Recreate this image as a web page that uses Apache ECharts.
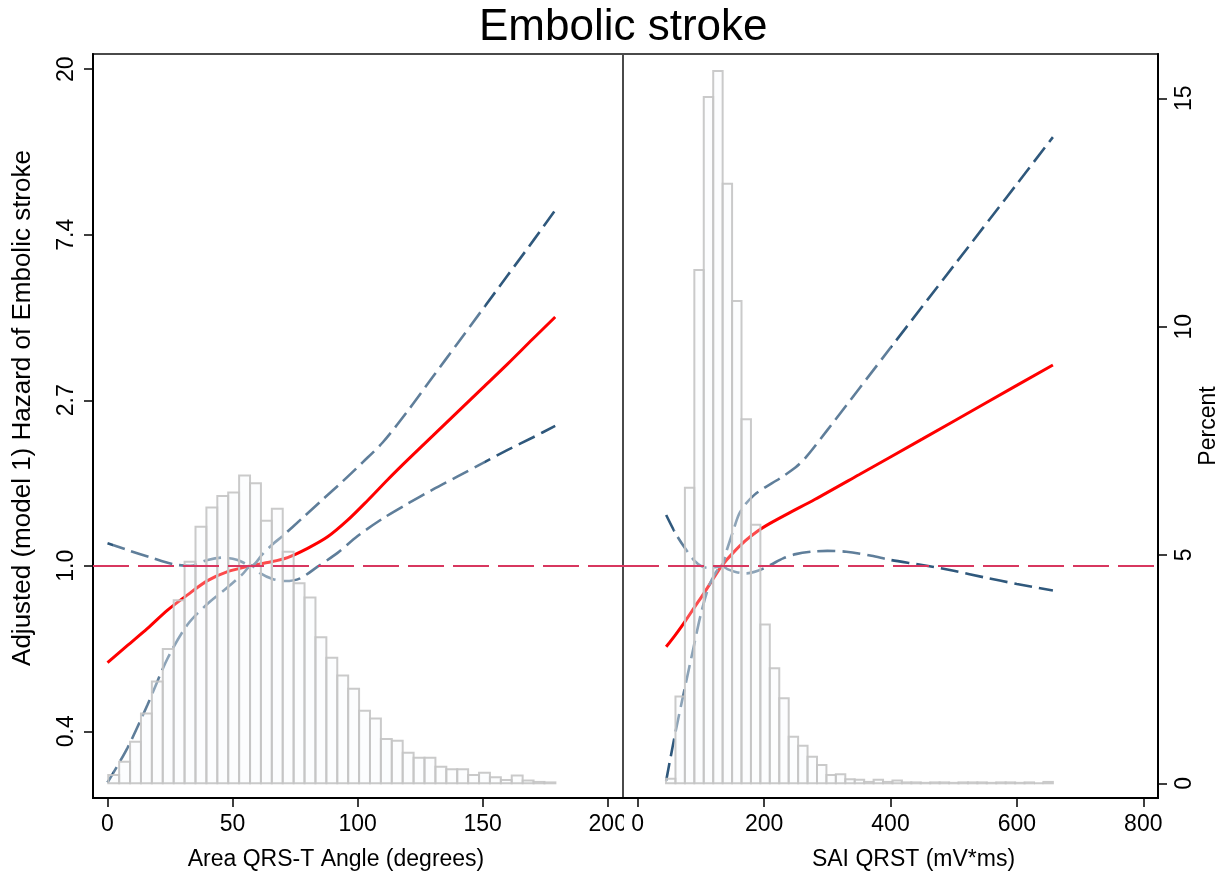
<!DOCTYPE html>
<html>
<head>
<meta charset="utf-8">
<script src="https://cdn.jsdelivr.net/npm/echarts@6/dist/echarts.min.js"></script>
<style>
html,body{margin:0;padding:0;background:#fff;}
#chart{width:1230px;height:880px;}
</style>
</head>
<body>
<div id="chart"></div>
<script>
// ---------------- DATA ----------------
const titleText = 'Embolic stroke';
const leftXTitle = 'Area QRS-T Angle (degrees)';
const rightXTitle = 'SAI QRST (mV*ms)';
const yTitle = 'Adjusted (model 1) Hazard of Embolic stroke';
const y2Title = 'Percent';

// hazard axis (log scale) ticks: e^-1 .. e^3
const hazardTickLn = [-1, 0, 1, 2, 3];
const hazardTickLabels = ['0.4', '1.0', '2.7', '7.4', '20'];
const percentTicks = [0, 5, 10, 15];
const leftXTicks = [0, 50, 100, 150, 200];
const rightXTicks = [0, 200, 400, 600, 800];

// Left panel: Area QRS-T angle
const leftX     = [0, 8, 16, 24, 32, 40, 48, 56, 64, 72, 80, 88, 96, 104, 112, 120, 130, 140, 150, 160, 170, 179];
const leftHR    = [0.557, 0.618, 0.685, 0.765, 0.839, 0.914, 0.965, 0.996, 1.020, 1.051, 1.111, 1.191, 1.317, 1.484, 1.682, 1.896, 2.192, 2.535, 2.930, 3.387, 3.935, 4.495];
const leftUpX   = [0, 8, 17, 26, 33, 40, 46, 52, 57.5, 62, 66, 70, 78, 86, 94, 102, 110, 120, 130, 140, 150, 160, 170, 179];
const leftUpHR  = [1.146, 1.100, 1.053, 1.010, 1.000, 1.036, 1.051, 1.036, 1.000, 1.073, 1.139, 1.197, 1.336, 1.492, 1.665, 1.868, 2.106, 2.547, 3.127, 3.838, 4.711, 5.783, 7.099, 8.568];
const leftLoX   = [0, 8, 16, 24, 32, 40, 48, 54, 57.5, 61, 66, 71, 77, 84, 92, 100, 110, 120, 130, 140, 150, 160, 170, 179];
const leftLoHR  = [0.270, 0.333, 0.432, 0.571, 0.701, 0.795, 0.878, 0.951, 1.000, 0.956, 0.923, 0.912, 0.927, 0.995, 1.081, 1.197, 1.330, 1.455, 1.584, 1.716, 1.859, 2.014, 2.171, 2.328];
// histogram (percent), bins start at 0.3, width 4.36
const leftBinStart = 0.3, leftBinWidth = 4.36;
const leftPct = [0.18, 0.47, 0.91, 1.53, 2.23, 2.94, 4.01, 4.85, 5.62, 6.04, 6.29, 6.37, 6.74, 6.57, 5.75, 6.01, 5.07, 4.38, 4.07, 3.20, 2.75, 2.36, 2.07, 1.59, 1.42, 0.97, 0.93, 0.67, 0.56, 0.56, 0.36, 0.31, 0.31, 0.18, 0.23, 0.13, 0.07, 0.17, 0.06, 0.03, 0.02];

// Right panel: SAI QRST
const rightX    = [45, 60, 75, 90, 105, 120, 133, 150, 170, 190, 210, 240, 280, 350, 450, 550, 657];
const rightHR   = [0.613, 0.660, 0.715, 0.779, 0.848, 0.928, 1.000, 1.078, 1.162, 1.234, 1.294, 1.377, 1.492, 1.733, 2.149, 2.670, 3.363];
const rightUpX  = [45, 60, 75, 90, 100, 110, 122, 133, 141, 151, 160, 170, 185, 200, 225, 250, 267, 300, 400, 500, 600, 657];
const rightUpHR = [1.359, 1.215, 1.111, 1.030, 1.000, 0.988, 0.992, 1.000, 1.100, 1.234, 1.363, 1.448, 1.537, 1.600, 1.696, 1.813, 1.933, 2.270, 3.732, 6.123, 10.04, 13.33];
const rightLoX  = [45, 60, 75, 88, 100, 112, 122, 133, 142, 155, 172, 190, 210, 230, 250, 275, 300, 330, 370, 400, 450, 500, 550, 600, 657];
const rightLoHR = [0.273, 0.368, 0.482, 0.607, 0.748, 0.878, 0.951, 1.000, 0.980, 0.963, 0.955, 0.970, 1.005, 1.046, 1.073, 1.089, 1.094, 1.089, 1.062, 1.036, 1.005, 0.970, 0.931, 0.896, 0.861];
// histogram (percent), bins start at 44.8, width 14.93
const rightBinStart = 44.8, rightBinWidth = 14.93;
const rightPct = [0.10, 1.90, 6.47, 11.24, 15.03, 15.60, 13.13, 10.56, 7.97, 5.66, 3.48, 2.52, 1.86, 1.02, 0.82, 0.58, 0.40, 0.18, 0.20, 0.09, 0.08, 0.03, 0.08, 0.03, 0.06, 0.02, 0.02, 0.01, 0.02, 0.02, 0.01, 0.02, 0.02, 0.02, 0.01, 0.02, 0.02, 0.01, 0.02, 0, 0.03];

// ---------------- CHART ----------------
const FONT = '"Liberation Sans", Arial, Helvetica, sans-serif';
const chart = echarts.init(document.getElementById('chart'), null, {renderer: 'canvas'});

const CI_LIGHT = '#5f7e9a', CI_DARK = '#2f587c';
function ciGradient(p1, p99) {
  return new echarts.graphic.LinearGradient(0, 0, 1, 0, [
    {offset: 0, color: CI_DARK}, {offset: p1, color: CI_DARK},
    {offset: p1 + 0.001, color: CI_LIGHT}, {offset: p99, color: CI_LIGHT},
    {offset: p99 + 0.001, color: CI_DARK}, {offset: 1, color: CI_DARK}
  ]);
}
function toPairs(xs, hrs) { return xs.map((x, i) => [x, Math.log(hrs[i])]); }
function lineSeries(xs, hrs, xi, yi, lineStyle, extra) {
  return Object.assign({
    type: 'line', xAxisIndex: xi, yAxisIndex: yi,
    data: toPairs(xs, hrs), showSymbol: false, symbol: 'none',
    smooth: 0.3, silent: true, z: 2,
    lineStyle: lineStyle
  }, extra || {});
}
function histSeries(start, width, pcts, xi, yi) {
  return {
    type: 'custom', xAxisIndex: xi, yAxisIndex: yi, silent: true, z: 3,
    data: pcts.map((p, i) => [start + i * width, start + (i + 1) * width, p]),
    encode: {x: [0, 1], y: 2},
    renderItem: function (params, api) {
      const p0 = api.coord([api.value(0), 0]);
      const p1 = api.coord([api.value(1), api.value(2)]);
      return {
        type: 'rect',
        shape: {x: p0[0], y: p1[1], width: p1[0] - p0[0], height: p0[1] - p1[1]},
        style: {fill: 'rgba(244,247,251,0.3)', stroke: 'rgba(196,196,196,0.9)', lineWidth: 2}
      };
    }
  };
}
const refLine = {
  silent: true, symbol: ['none', 'none'], label: {show: false},
  lineStyle: {color: '#d8375f', width: 2, type: [36, 9]},
  data: [{yAxis: 0}]
};
const redStyle = {color: '#ff0000', width: 3};
const tickLabel = {fontSize: 23, color: '#000', fontFamily: FONT};
const nameStyle = {fontSize: 23, color: '#000', fontFamily: FONT};
const axisLineStyle = {show: true, onZero: false, lineStyle: {color: '#000', width: 2}};

const option = {
  animation: false,
  backgroundColor: '#ffffff',
  textStyle: {fontFamily: FONT},
  title: {
    text: titleText, left: 474, top: 1,
    textStyle: {fontSize: 44, fontWeight: 'normal', color: '#000', fontFamily: FONT}
  },
  grid: [
    {left: 93, top: 54, width: 530, height: 744, show: true, borderColor: '#4a4a4a', borderWidth: 2},
    {left: 623, top: 54, width: 535, height: 744, show: true, borderColor: '#4a4a4a', borderWidth: 2}
  ],
  xAxis: [
    {
      gridIndex: 0, type: 'value', min: -5.8, max: 206.1,
      axisLine: axisLineStyle,
      axisTick: {show: true, length: 9, lineStyle: {color: '#000', width: 1.5}, customValues: leftXTicks},
      axisLabel: Object.assign({margin: 15, customValues: leftXTicks, showMinLabel: true, showMaxLabel: true}, tickLabel),
      splitLine: {show: false},
      name: leftXTitle, nameLocation: 'middle', nameGap: 50,
      nameTextStyle: Object.assign({padding: [0, 44, 0, 0]}, nameStyle)
    },
    {
      gridIndex: 1, type: 'value', min: -23.3, max: 823.3,
      axisLine: axisLineStyle,
      axisTick: {show: true, length: 9, lineStyle: {color: '#000', width: 1.5}, customValues: rightXTicks},
      axisLabel: Object.assign({margin: 15, customValues: rightXTicks, showMinLabel: true, showMaxLabel: true}, tickLabel),
      splitLine: {show: false},
      name: rightXTitle, nameLocation: 'middle', nameGap: 50,
      nameTextStyle: Object.assign({padding: [0, 0, 0, 46]}, nameStyle)
    }
  ],
  yAxis: [
    {
      gridIndex: 0, type: 'value', position: 'left', min: -1.403, max: 3.092,
      axisLine: axisLineStyle,
      axisTick: {show: true, length: 9, lineStyle: {color: '#000', width: 1.5}, customValues: hazardTickLn},
      axisLabel: Object.assign({
        margin: 15, rotate: 90, customValues: hazardTickLn, showMinLabel: true, showMaxLabel: true,
        formatter: function (v) { const i = hazardTickLn.indexOf(Math.round(v)); return i >= 0 ? hazardTickLabels[i] : ''; }
      }, tickLabel),
      splitLine: {show: false},
      name: yTitle, nameLocation: 'middle', nameGap: 57, nameRotate: 90,
      nameTextStyle: {fontSize: 26, color: '#000', fontFamily: FONT, padding: [0, 0, 0, 36]}
    },
    {gridIndex: 0, type: 'value', min: -0.322, max: 15.97, show: false},
    {gridIndex: 1, type: 'value', min: -1.403, max: 3.092, show: false},
    {
      gridIndex: 1, type: 'value', position: 'right', min: -0.322, max: 15.97,
      axisLine: axisLineStyle,
      axisTick: {show: true, length: 9, lineStyle: {color: '#000', width: 1.5}, customValues: percentTicks},
      axisLabel: Object.assign({margin: 15, rotate: 90, customValues: percentTicks, showMinLabel: true, showMaxLabel: true}, tickLabel),
      splitLine: {show: false},
      name: y2Title, nameLocation: 'middle', nameGap: 39, nameRotate: 90,
      nameTextStyle: nameStyle
    }
  ],
  series: [
    lineSeries(leftX, leftHR, 0, 0, redStyle, {markLine: refLine, z: 2}),
    lineSeries(leftUpX, leftUpHR, 0, 0, {color: ciGradient(0.017, 0.838), width: 2.6, type: [18, 7]}),
    lineSeries(leftLoX, leftLoHR, 0, 0, {color: ciGradient(0.017, 0.838), width: 2.6, type: [18, 7]}),
    histSeries(leftBinStart, leftBinWidth, leftPct, 0, 1),
    lineSeries(rightX, rightHR, 1, 2, redStyle, {markLine: refLine, z: 2}),
    lineSeries(rightUpX, rightUpHR, 1, 2, {color: ciGradient(0.025, 0.58), width: 2.6, type: [18, 7]}),
    lineSeries(rightLoX, rightLoHR, 1, 2, {color: ciGradient(0.025, 0.58), width: 2.6, type: [18, 7]}),
    histSeries(rightBinStart, rightBinWidth, rightPct, 1, 3)
  ],
  graphic: [
    {type: 'rect', left: 624, top: 812, shape: {width: 7, height: 32}, style: {fill: '#fff'}, z: 100, silent: true}
  ]
};
chart.setOption(option);
</script>
</body>
</html>
